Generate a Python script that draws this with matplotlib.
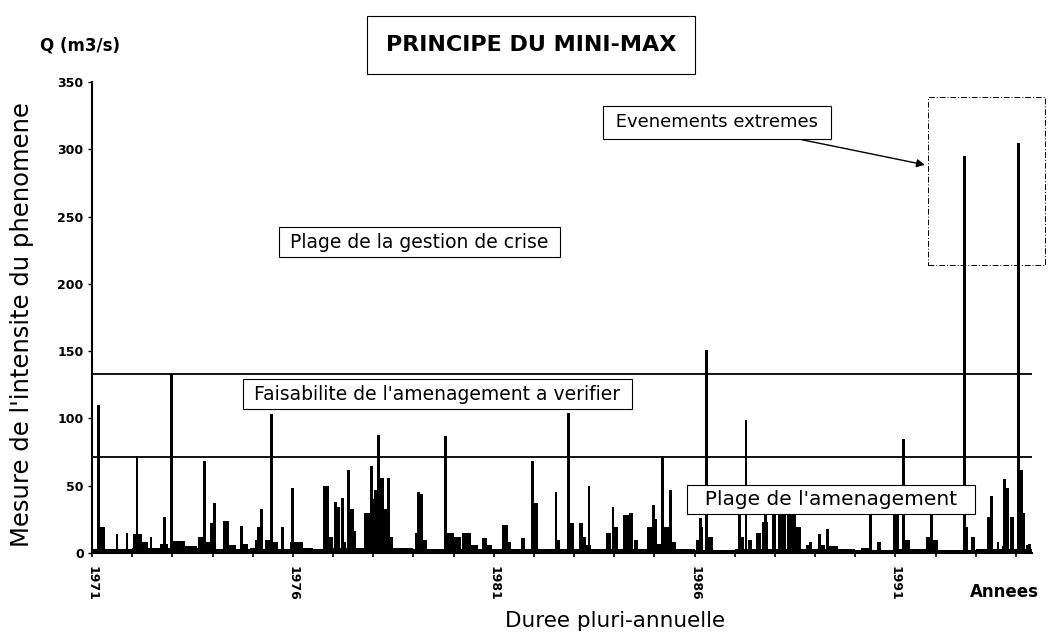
import numpy as np
import matplotlib.pyplot as plt
from matplotlib.patches import Rectangle

# ------------------------------------------------------------------
# Donnees (debits en m3/s, temps en annees)
# ------------------------------------------------------------------

# pointes de crue (instantanees)
annee_pointe = [1971.17, 1971.62, 1971.87, 1972.12, 1972.47, 1972.80, 1972.97,
                1973.79, 1973.97, 1974.04, 1974.72, 1975.14, 1975.21, 1975.46,
                1975.74, 1975.99, 1977.06, 1977.23, 1977.38, 1977.96, 1978.06,
                1978.13, 1978.38, 1979.13, 1979.80, 1981.25, 1981.72, 1981.97,
                1982.55, 1982.87, 1983.37, 1983.97, 1984.97, 1985.21, 1985.41,
                1986.14, 1986.29, 1987.11, 1987.28, 1987.76, 1987.96, 1988.33,
                1989.10, 1989.30, 1990.38, 1990.98, 1991.05, 1991.20, 1991.90,
                1992.72, 1993.32, 1993.39, 1993.72, 1993.79, 1994.07, 1994.34]
q_pointe = [110, 14, 15, 72, 12, 27, 133,
            68, 22, 37, 20, 19, 33, 103,
            19, 48, 38, 41, 62, 65, 47,
            88, 56, 45, 87, 21, 11, 68,
            45, 104, 50, 34, 36, 72, 47,
            26, 151, 28, 99, 41, 38, 42,
            14, 18, 42, 42, 42, 85, 40,
            295, 27, 42, 55, 48, 305, 7]

# episodes de debit soutenu (debut, fin, debit)
debut = [1971.20, 1972.02, 1972.25, 1972.70, 1972.97, 1973.32, 1973.64, 1973.82,
         1974.27, 1974.42, 1974.77, 1974.94, 1975.06, 1975.31, 1975.49, 1975.94,
         1976.26, 1976.76, 1976.89, 1977.08, 1977.26, 1977.41, 1977.51, 1977.78,
         1977.96, 1978.16, 1978.26, 1978.41, 1978.48, 1979.05, 1979.15, 1979.25,
         1979.83, 1980.00, 1980.20, 1980.43, 1980.70, 1980.83, 1981.22, 1981.35,
         1981.70, 1982.00, 1982.10, 1982.57, 1982.90, 1983.12, 1983.22, 1983.29,
         1983.79, 1983.99, 1984.22, 1984.37, 1984.49, 1984.82, 1984.99, 1985.06,
         1985.24, 1985.44, 1986.04, 1986.16, 1986.31, 1987.08, 1987.16, 1987.33,
         1987.53, 1987.68, 1987.78, 1987.96, 1988.08, 1988.36, 1988.53, 1988.78,
         1988.86, 1989.15, 1989.33, 1990.15, 1990.53, 1991.22, 1991.77, 1991.92,
         1992.75, 1992.87, 1993.34, 1993.52, 1993.64, 1993.84, 1994.09, 1994.17,
         1994.24]
fin = [1971.32, 1972.25, 1972.40, 1972.90, 1973.32, 1973.62, 1973.82, 1974.09,
       1974.42, 1974.59, 1974.89, 1975.06, 1975.24, 1975.46, 1975.64, 1976.26,
       1976.49, 1976.89, 1977.01, 1977.18, 1977.33, 1977.51, 1977.58, 1977.93,
       1978.03, 1978.26, 1978.38, 1978.48, 1978.93, 1979.10, 1979.25, 1979.35,
       1980.00, 1980.18, 1980.43, 1980.60, 1980.83, 1980.95, 1981.35, 1981.42,
       1981.77, 1982.10, 1982.42, 1982.65, 1983.00, 1983.22, 1983.29, 1983.42,
       1983.92, 1984.09, 1984.37, 1984.47, 1984.59, 1984.94, 1985.06, 1985.16,
       1985.36, 1985.54, 1986.11, 1986.21, 1986.46, 1987.16, 1987.23, 1987.43,
       1987.66, 1987.76, 1987.83, 1988.03, 1988.28, 1988.53, 1988.66, 1988.86,
       1988.93, 1989.25, 1989.58, 1990.35, 1990.65, 1991.35, 1991.87, 1992.07,
       1992.80, 1992.99, 1993.39, 1993.57, 1993.74, 1993.94, 1994.17, 1994.22,
       1994.34]
q_bloc = [19, 14, 8, 7, 9, 5, 12, 8,
          24, 6, 7, 4, 10, 10, 8, 8,
          4, 50, 12, 34, 8, 33, 16, 30,
          40, 56, 33, 12, 3, 15, 44, 10,
          15, 12, 15, 6, 11, 6, 21, 8,
          11, 37, 2, 10, 22, 22, 12, 6,
          15, 19, 28, 30, 10, 19, 25, 7,
          19, 8, 10, 19, 12, 23, 12, 10,
          15, 23, 23, 38, 28, 30, 19, 6,
          8, 6, 5, 4, 8, 10, 12, 10,
          19, 12, 27, 8, 5, 27, 62, 30,
          6]

# debit de base annuel
annees = list(range(1971, 1995))
q_base = [3, 4, 4, 3, 3, 3, 4, 4, 3, 3, 3, 3,
          3, 3, 3, 2, 3, 3, 3, 2, 3, 2, 3, 3]

seuil_amenagement = 71.5
seuil_crise = 133
annees_lab = [1971, 1976, 1981, 1986, 1991]

# ------------------------------------------------------------------
fig = plt.figure(figsize=(10.53, 6.36), dpi=100)
ax = fig.add_axes([0.0874, 0.1305, 0.8927, 0.7406])

duree = np.array(fin) - np.array(debut)
ax.bar(annees, q_base, width=1.0, align='edge', color='black', linewidth=0)
ax.bar(debut, q_bloc, width=duree, align='edge', color='black', linewidth=0)
ax.bar(annee_pointe, q_pointe, width=0.07, color='black', linewidth=0)

ax.axhline(seuil_crise, color='black', lw=1.3)
ax.axhline(seuil_amenagement, color='black', lw=1.3)

ax.set_xlim(1971, 1994.4)
ax.set_ylim(0, 350)
ax.spines['top'].set_visible(False)
ax.spines['right'].set_visible(False)
ax.spines['left'].set_linewidth(1.5)
ax.spines['bottom'].set_linewidth(1.5)

ax.set_yticks(np.arange(0, 351, 50))
ax.tick_params(axis='y', direction='out', length=3, width=1, labelsize=9, pad=3)
ax.set_xticks(annees)
ax.set_xticklabels([str(a) if a in annees_lab else '' for a in annees],
                   rotation=-90, fontsize=9, fontweight='bold')
ax.tick_params(axis='x', direction='out', length=3, width=1.2, pad=6)
for lab in ax.get_yticklabels():
    lab.set_fontweight('bold')

def boite(pad):
    return dict(boxstyle=f'square,pad={pad}', facecolor='white',
                edgecolor='black', lw=0.8)

ax.text(1979.15, 231, ' Plage de la gestion de crise ', ha='center',
        va='center', fontsize=13.5, bbox=boite(0.3))
ax.text(1979.6, 118, " Faisabilite de l'amenagement a verifier ", ha='center',
        va='center', fontsize=13.5, bbox=boite(0.3))
ax.text(1989.4, 40, "  Plage de l'amenagement  ", ha='center', va='center',
        fontsize=14.5, bbox=boite(0.25))
ax.annotate(' Evenements extremes ', xy=(1991.8, 288), xytext=(1986.56, 320),
            ha='center', va='center', fontsize=13, bbox=boite(0.4),
            arrowprops=dict(arrowstyle='-|>', color='black', lw=1,
                            mutation_scale=12))

ax.add_patch(Rectangle((1991.82, 214), 2.9, 125, fill=False, edgecolor='black',
                       lw=0.7, linestyle=(0, (6, 2, 1, 2)), clip_on=False))

fig.text(0.504, 0.929, 'PRINCIPE DU MINI-MAX', ha='center', va='center',
         fontsize=16, fontweight='bold',
         bbox=dict(boxstyle='square,pad=0.85', facecolor='white',
                   edgecolor='black', lw=0.8))
fig.text(0.076, 0.929, 'Q (m3/s)', ha='center', va='center', fontsize=12,
         fontweight='bold')
fig.text(0.021, 0.489, "Mesure de l'intensite du phenomene", rotation=90,
         ha='center', va='center', fontsize=17.5)
fig.text(0.584, 0.024, 'Duree pluri-annuelle', ha='center', va='center',
         fontsize=15.5)
fig.text(0.954, 0.069, 'Annees', ha='center', va='center', fontsize=12,
         fontweight='bold')

fig.savefig('out.png', dpi=100)
